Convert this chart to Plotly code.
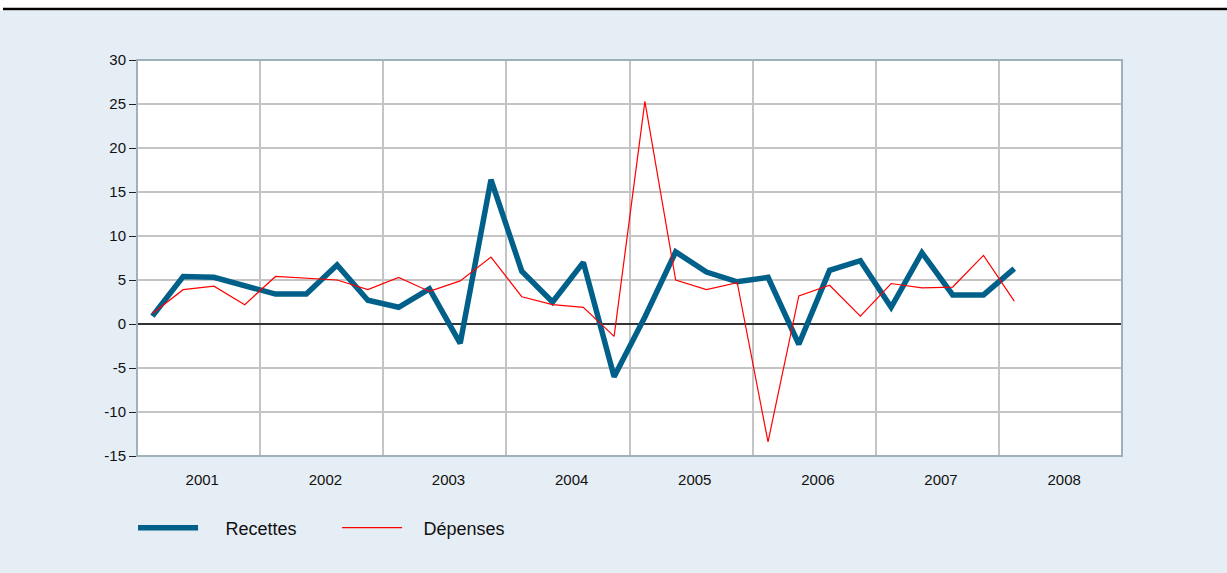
import plotly.graph_objects as go

years = list(range(2001, 2009))
year_labels = [str(y) for y in years]
quarters = ["%d T%d" % (2001 + i // 4, i % 4 + 1) for i in range(29)]

recettes = [0.9, 5.4, 5.3, 4.4, 3.4, 3.4, 6.7, 2.7, 1.9, 4.0, -2.2, 16.4,
            6.0, 2.5, 7.0, -6.0, 0.8, 8.2, 5.9, 4.8, 5.3, -2.3, 6.1, 7.2,
            1.9, 8.1, 3.3, 3.3, 6.3]
depenses = [1.2, 3.9, 4.3, 2.2, 5.4, 5.2, 5.0, 3.9, 5.3, 3.7, 4.9, 7.6,
            3.1, 2.2, 1.9, -1.4, 25.3, 5.0, 3.9, 4.7, -13.4, 3.2, 4.4, 0.9,
            4.6, 4.1, 4.2, 7.8, 2.6]

yticks = list(range(-15, 31, 5))
ytick_labels = [str(v) for v in yticks]

# position of each quarter in the middle of its quarter of the year band
xpos = [2001 + (i + 0.5) / 4 for i in range(len(recettes))]

FONT = "Liberation Sans, Arial, sans-serif"
BG = "#e5edf5"

fig = go.Figure()
fig.add_trace(go.Scatter(x=xpos, y=recettes, mode="lines",
                         name="\u2002\u2002\u2005Recettes",
                         line=dict(color="#00608a", width=5.5),
                         text=quarters, hoverinfo="text+y"))
fig.add_trace(go.Scatter(x=xpos, y=depenses, mode="lines",
                         name="\u2002\u2005\u2006Dépenses",
                         line=dict(color="#ff0000", width=1.2),
                         text=quarters, hoverinfo="text+y"))

fig.update_layout(
    width=1227, height=573,
    margin=dict(l=137, r=105, t=60, b=117),
    paper_bgcolor=BG, plot_bgcolor="white",
    font=dict(family=FONT, size=15, color="#111"),
    showlegend=True,
    legend=dict(orientation="h", x=-0.004, y=-0.135, xanchor="left", yanchor="top",
                font=dict(family=FONT, size=18, color="#111"),
                itemwidth=60, bgcolor="rgba(0,0,0,0)", entrywidth=129,
                entrywidthmode="pixels"),
    xaxis=dict(range=[2001, 2009], tickmode="array",
               tickvals=[y + 0.53 for y in years], ticktext=year_labels,
               ticks="outside", ticklen=10, tickcolor="rgba(0,0,0,0)",
               tickfont=dict(size=15),
               showgrid=False, zeroline=False, showline=False,
               minor=dict(tickmode="array", tickvals=years[1:], showgrid=True,
                          gridcolor="#c4c4c4", gridwidth=1.5, ticks="")),
    yaxis=dict(range=[-15, 30], tickmode="array", tickvals=yticks,
               ticktext=ytick_labels, tickfont=dict(size=15),
               ticks="outside", ticklen=7, tickcolor="#222", tickwidth=1,
               showgrid=True, gridcolor="#c4c4c4", gridwidth=1.5,
               zeroline=True, zerolinecolor="#333", zerolinewidth=1.5,
               showline=True, linecolor="#111", linewidth=1),
    shapes=[
        # frame (top, right, bottom)
        dict(type="rect", xref="paper", yref="paper", x0=0, x1=1, y0=0, y1=1,
             line=dict(color="#9eb0ba", width=2), layer="above"),
        # white strip at top of the page
        dict(type="rect", xref="paper", yref="paper", xsizemode="pixel", ysizemode="pixel",
             xanchor=0, yanchor=1, x0=-140, x1=1100, y0=49, y1=70,
             fillcolor="white", line=dict(width=0), layer="below"),
        # black rule at top
        dict(type="line", xref="paper", yref="paper", xsizemode="pixel", ysizemode="pixel",
             xanchor=0, yanchor=1, x0=-134, x1=1092, y0=51, y1=51,
             line=dict(color="black", width=2.5)),
    ],
)

fig.write_html("out.html", config={"displayModeBar": False},
               post_script="document.body.style.margin='0';")
